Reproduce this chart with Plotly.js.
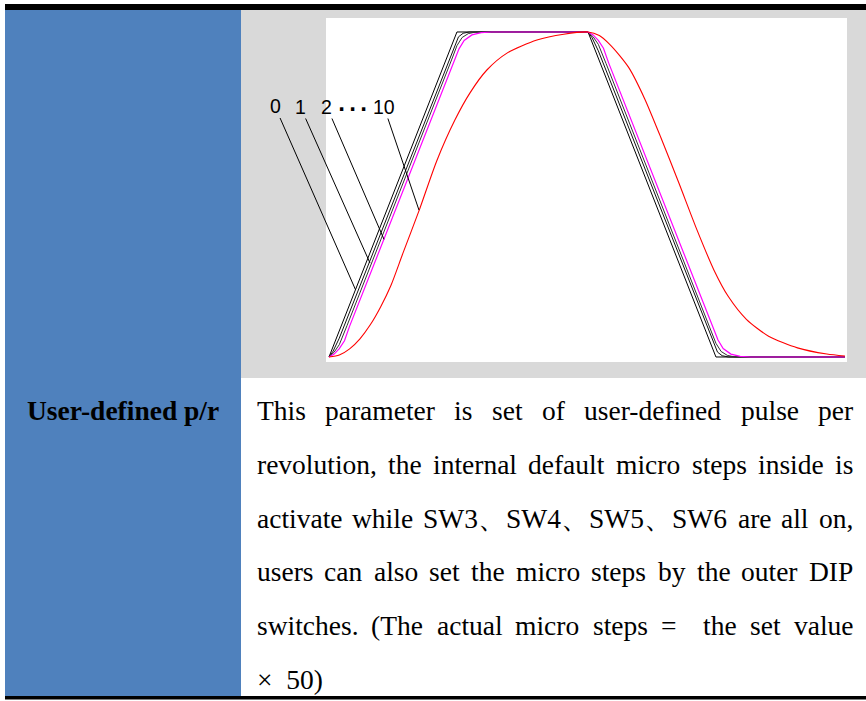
<!DOCTYPE html>
<html><head><meta charset="utf-8">
<script src="https://cdn.plot.ly/plotly-3.0.1.min.js"></script>
<style>html,body{margin:0;padding:0;background:#fff;}#chart{width:866px;height:701px;}</style>
</head><body><div id="chart"></div>
<script>
// ---- curve data (time %, speed %) ----
const curve0X = [0, 24.8, 50.2, 75.0, 100];
const curve0Y = [0, 100, 100, 0, 0];

const curve1X = [0, 0.8, 2.0, 24.4, 25.1, 26.0, 27.2, 50.2, 51.0, 52.2, 74.6, 75.3, 76.2, 77.4, 100];
const curve1Y = [0, 1.8, 5.8, 96, 98.5, 99.6, 100, 100, 98.2, 94.2, 4, 1.5, 0.4, 0, 0];

const curve2X = [0, 1.0, 2.0, 3.5, 23.9, 24.8, 25.8, 27.0, 28.5, 50.2, 51.2, 52.2, 53.7, 74.1, 75.0, 76.0, 77.2, 78.7, 100];
const curve2Y = [0, 1.5, 3.8, 9.7, 92, 95.8, 98.3, 99.5, 100, 100, 98.5, 96.2, 90.3, 8, 4.2, 1.7, 0.5, 0, 0];

const curvePinkX = [0, 1.0, 2.0, 3.0, 4.0, 24.4, 25.2, 26.2, 27.7, 29.5, 31.5, 50.2, 51.2, 52.2, 53.2, 54.2, 74.6, 75.4, 76.4, 77.9, 79.7, 81.7, 100];
const curvePinkY = [0, 0.9, 2.6, 5.0, 9.5, 91.8, 94.8, 97.4, 99.1, 99.8, 100, 100, 99.1, 97.4, 95.0, 90.5, 8.2, 5.2, 2.6, 0.9, 0.2, 0, 0];

const curve10X = [0, 2.0, 4.0, 6.0, 8.0, 10.0, 12.0, 14.3, 17.4, 20.9, 24.4, 27.3, 30.6, 34.5, 40.3, 45.5, 50.2,
                  52.4, 54.4, 56.3, 58.2, 61.2, 64.3, 67.8, 71.3, 74.6, 77.4, 80.9, 85.2, 90.8, 96.5, 100];
const curve10Y = [0, 0.6, 2.5, 5.6, 9.9, 15.4, 22.0, 31.8, 44.8, 60.4, 72.9, 81.2, 88.3, 93.5, 97.5, 99.3, 100,
                  98.9, 96.2, 92.8, 88.8, 79.4, 67.6, 53.6, 39.2, 26.8, 18.6, 11.6, 6.4, 2.8, 0.9, 0.3];

// labels and the points their leader lines touch
const labelTexts = ['0', '1', '2', '10'];
const labelPointX = [5.17, 7.95, 10.66, 17.44];
const labelPointY = [20.6, 28.9, 36.2, 45.2];

const leftCellText = 'User-defined p/r';
const bodyLines = [
  'This parameter is set of user-defined pulse per',
  'revolution, the internal default micro steps inside is',
  'activate while SW3、SW4、SW5、SW6 are all on,',
  'users can also set the micro steps by the outer DIP',
  'switches. (The actual micro steps =  the set value',
  '×\u00a0\u00a050)'
];

// ---- layout helpers ----
const W = 866, H = 701;
const px = v => v / W;
const py = v => 1 - v / H;

const traces = [
  {x: curve0X, y: curve0Y, mode: 'lines', line: {color: '#000000', width: 1}},
  {x: curve1X, y: curve1Y, mode: 'lines', line: {color: '#111111', width: 1}},
  {x: curve2X, y: curve2Y, mode: 'lines', line: {color: '#333333', width: 1}},
  {x: curvePinkX, y: curvePinkY, mode: 'lines', line: {color: '#FF00FF', width: 1.2}},
  {x: curve10X, y: curve10Y, mode: 'lines', line: {color: '#FF0000', width: 1.1, shape: 'spline', smoothing: 0.7}}
];

const shapes = [
  {type: 'rect', xref: 'paper', yref: 'paper', x0: px(5), x1: px(241), y0: py(697), y1: py(10), fillcolor: '#4F81BD', line: {width: 0}, layer: 'below'},
  {type: 'rect', xref: 'paper', yref: 'paper', x0: px(241), x1: px(866), y0: py(378), y1: py(10), fillcolor: '#D9D9D9', line: {width: 0}, layer: 'below'},
  {type: 'rect', xref: 'paper', yref: 'paper', x0: px(326), x1: px(847), y0: py(362), y1: py(18), fillcolor: '#FFFFFF', line: {width: 0}, layer: 'below'},
  {type: 'rect', xref: 'paper', yref: 'paper', x0: px(5), x1: px(866), y0: py(10), y1: py(4), fillcolor: '#000000', line: {width: 0}, layer: 'above'},
  {type: 'rect', xref: 'paper', yref: 'paper', x0: px(5), x1: px(866), y0: py(699.5), y1: py(696), fillcolor: '#000000', line: {width: 0}, layer: 'above'}
];

const annotations = [];
// curve labels with leader lines
const labelTextX = [275, 300.5, 327, 384];
const labelTextY = [106.5, 107, 107, 107];
const plotX0 = 326, plotX1 = 847, plotY0 = 18, plotY1 = 362;
const xr = [-0.58, 100.4], yr = [-1.54, 104.3];
const dataToPx = (x) => plotX0 + (x - xr[0]) / (xr[1] - xr[0]) * (plotX1 - plotX0);
const dataToPy = (y) => plotY1 - (y - yr[0]) / (yr[1] - yr[0]) * (plotY1 - plotY0);
labelTexts.forEach((t, i) => {
  annotations.push({
    x: labelPointX[i], y: labelPointY[i], xref: 'x', yref: 'y',
    text: t, showarrow: true, arrowhead: 0, arrowwidth: 1, arrowcolor: '#000',
    standoff: 0, startstandoff: 0,
    ax: labelTextX[i] - dataToPx(labelPointX[i]),
    ay: labelTextY[i] - dataToPy(labelPointY[i]),
    font: {family: 'Liberation Sans, Arial, sans-serif', size: 19.5, color: '#000'},
    borderpad: 0
  });
});
annotations.push({
  x: px(352), y: py(97), xref: 'paper', yref: 'paper', text: '<b>·\u2009·\u2009·</b>', showarrow: false,
  font: {family: 'DejaVu Sans, sans-serif', size: 19, color: '#000'}, borderpad: 0
});

// left cell heading
annotations.push({
  x: px(123), y: py(410), xref: 'paper', yref: 'paper', text: '<b>' + leftCellText + '</b>',
  showarrow: false, xanchor: 'center', yanchor: 'middle',
  font: {family: 'Liberation Serif, Times New Roman, serif', size: 27.5, color: '#000'}, borderpad: 0
});

// justified body text
const fontSize = 27.5;
const fontFam = "'Liberation Serif'";
const canvas = document.createElement('canvas');
const ctx = canvas.getContext('2d');
ctx.font = fontSize + 'px ' + fontFam;
const left = 256.5, right = 853.5;
const lineY = [410, 464, 518, 571, 625, 679];
bodyLines.forEach((line, li) => {
  const yPos = py(lineY[li]);
  const last = li === bodyLines.length - 1;
  if (last) {
    annotations.push({x: px(left), y: yPos, xref: 'paper', yref: 'paper', text: line, showarrow: false,
      xanchor: 'left', yanchor: 'middle', borderpad: 0, borderwidth: 0,
      font: {family: 'Liberation Serif, Times New Roman, serif', size: fontSize, color: '#000'}});
    return;
  }
  const words = line.split(' ');
  const widths = words.map(w => w ? ctx.measureText(w).width : 0);
  const total = widths.reduce((a, b) => a + b, 0);
  const gap = (right - left - total) / (words.length - 1);
  let cur = left;
  words.forEach((w, wi) => {
    if (w) {
      annotations.push({x: px(cur), y: yPos, xref: 'paper', yref: 'paper', text: w, showarrow: false,
        xanchor: 'left', yanchor: 'middle', borderpad: 0, borderwidth: 0,
        font: {family: 'Liberation Serif, Times New Roman, serif', size: fontSize, color: '#000'}});
    }
    cur += widths[wi] + gap;
  });
});

const layout = {
  width: W, height: H,
  margin: {l: 0, r: 0, t: 0, b: 0},
  paper_bgcolor: '#FFFFFF', plot_bgcolor: 'rgba(0,0,0,0)',
  showlegend: false,
  xaxis: {domain: [px(plotX0), px(plotX1)], range: xr, visible: false, fixedrange: true},
  yaxis: {domain: [py(plotY1), py(plotY0)], range: yr, visible: false, fixedrange: true},
  shapes: shapes,
  annotations: annotations
};
Plotly.newPlot('chart', traces, layout, {displayModeBar: false, staticPlot: true});
</script>
</body></html>
